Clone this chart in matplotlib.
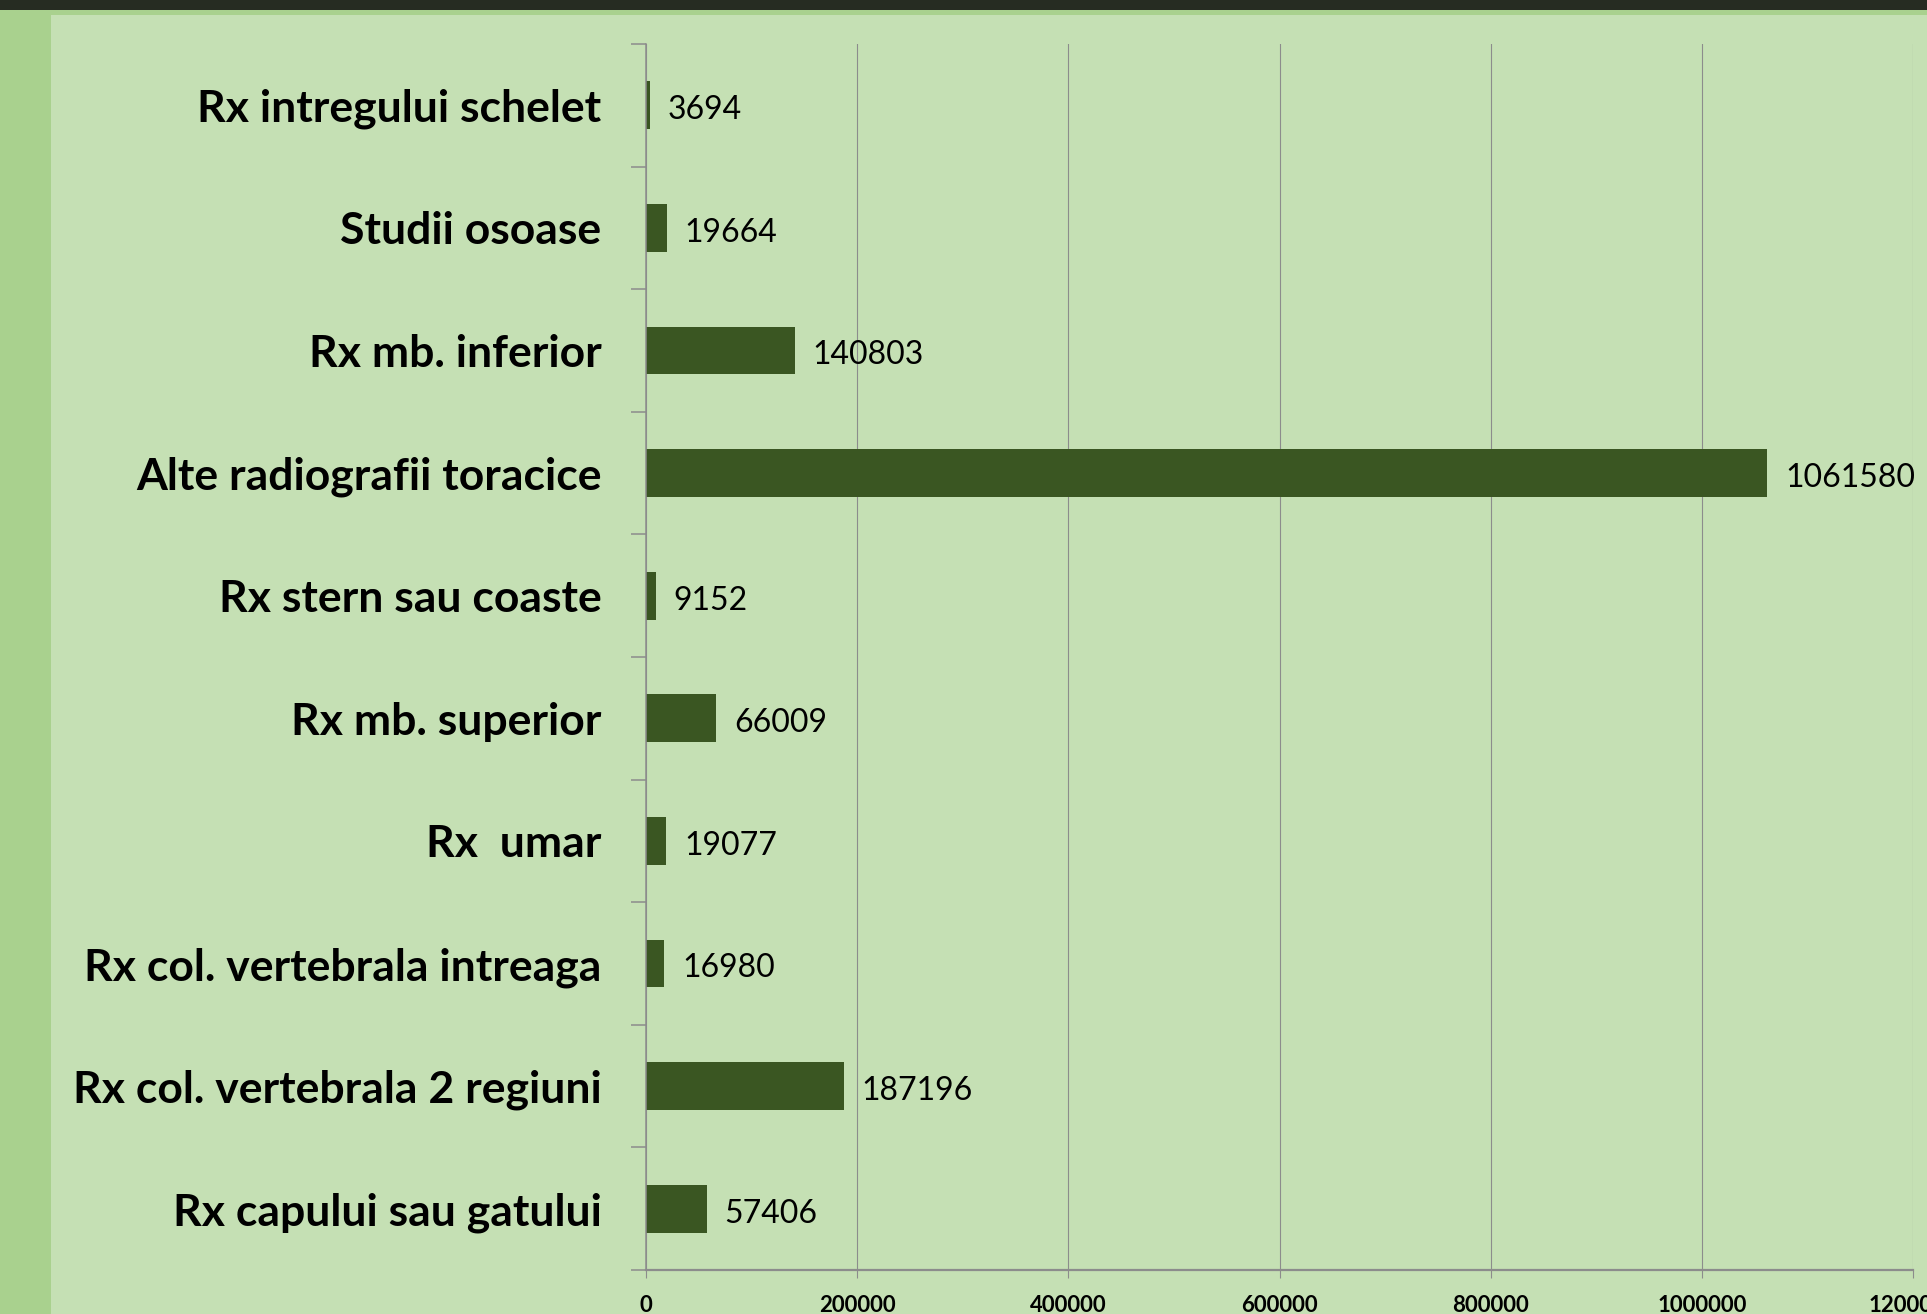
import matplotlib
matplotlib.use("Agg")
import matplotlib.pyplot as plt
from matplotlib.patches import Rectangle
import numpy as np

categories = [
    "Rx intregului schelet",
    "Studii osoase",
    "Rx mb. inferior",
    "Alte radiografii toracice",
    "Rx stern sau coaste",
    "Rx mb. superior",
    "Rx  umar",
    "Rx col. vertebrala intreaga",
    "Rx col. vertebrala 2 regiuni",
    "Rx capului sau gatului",
]
values = [3694, 19664, 140803, 1061580, 9152, 66009, 19077, 16980, 187196, 57406]
xticks = [0, 200000, 400000, 600000, 800000, 1000000, 1200000]

plt.rcParams['font.family'] = ['Lato', 'DejaVu Sans']

W, H = 1927, 1314
fig = plt.figure(figsize=(W / 100, H / 100), dpi=100)
fig.patch.set_facecolor("#a9d18e")
fig.patches.append(Rectangle((51 / W, 0), 1 - 51 / W, 1 - 15 / H, transform=fig.transFigure,
                             facecolor="#c5e0b4", edgecolor="none", zorder=-10))
fig.patches.append(Rectangle((0, 1 - 10 / H), 1, 10 / H, transform=fig.transFigure,
                             facecolor="#262c22", edgecolor="none", zorder=-10))

ax = fig.add_axes([646 / W, 1 - 1270 / H, 1267 / W, (1270 - 44) / H])
ax.set_facecolor("none")
ax.set_zorder(5)

n = len(categories)
ypos = np.arange(n)[::-1]
ax.barh(ypos, values, height=0.39, color="#3a5622", zorder=3)

for y, v in zip(ypos, values):
    ax.annotate(str(v), xy=(v, y), xytext=(13, -3.5), textcoords="offset points",
                va="center", ha="left", fontsize=23, color="#000000", zorder=4,
                annotation_clip=False)

ax.set_xlim(0, 1200000)
ax.set_ylim(-0.5, n - 0.5)
ax.set_xticks(xticks)
ax.set_xticklabels([str(t) for t in xticks], fontsize=16, fontweight="bold")
ax.set_yticks(ypos)
ax.set_yticklabels(categories, fontsize=32, fontweight="bold")
ax.set_yticks(np.arange(-0.5, n, 1.0), minor=True)

ax.tick_params(axis="y", which="major", length=0, pad=32)
ax.tick_params(axis="y", which="minor", length=11, width=1.1, color="#8c8c8c", direction="out")
ax.tick_params(axis="x", which="major", length=6, width=0.8, color="#8c8c8c", direction="out", pad=12)

ax.grid(axis="x", color="#8c8c8c", linewidth=0.8, zorder=1)
for s in ["top", "right"]:
    ax.spines[s].set_visible(False)
ax.spines["left"].set_color("#8c8c8c")
ax.spines["left"].set_linewidth(1.1)
ax.spines["bottom"].set_color("#8c8c8c")
ax.spines["bottom"].set_linewidth(1.6)
ax.spines["left"].set_zorder(5)

fig.savefig("out.png", dpi=100, facecolor=fig.get_facecolor())
